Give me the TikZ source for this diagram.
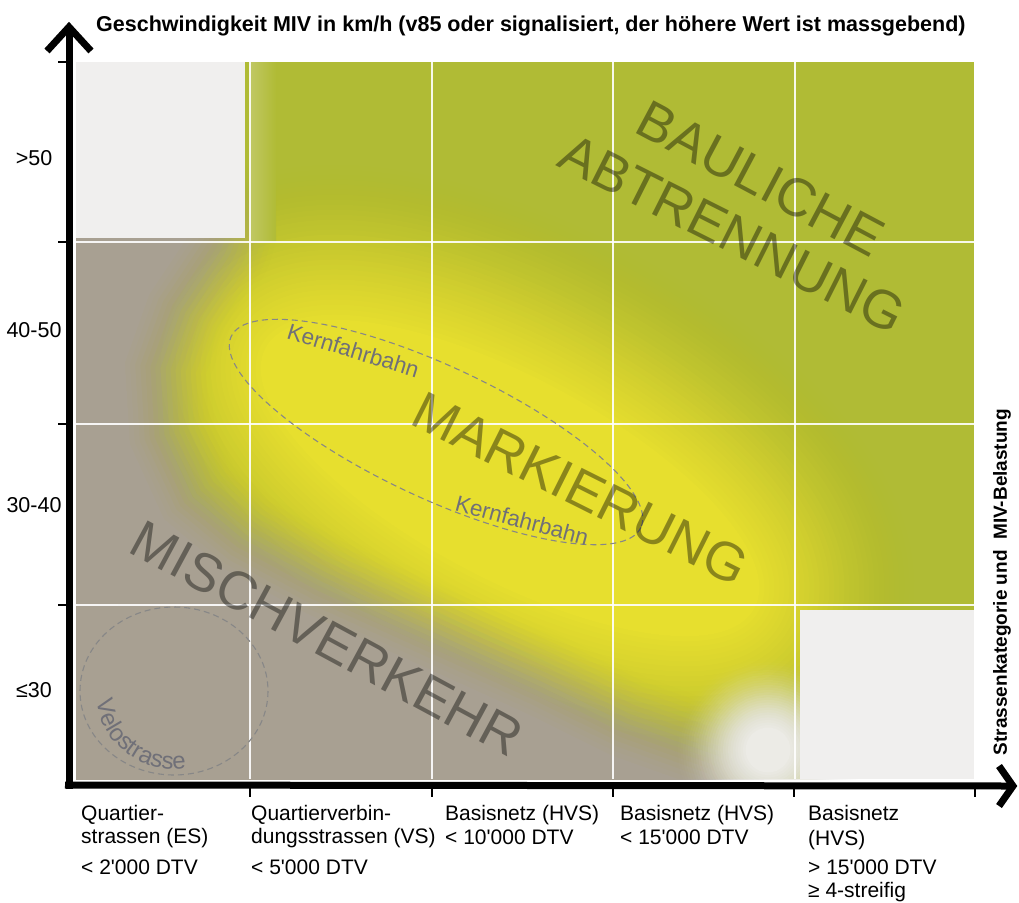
\documentclass[tikz,border=0pt]{standalone}
\usepackage{fontspec}
\setmainfont{Liberation Sans}
\usetikzlibrary{decorations.text}
\definecolor{cgreen}{RGB}{176,187,53}
\definecolor{cyellow}{RGB}{231,223,46}
\definecolor{cgrey}{RGB}{168,160,146}
\definecolor{clight}{RGB}{240,239,238}
\definecolor{cwhite}{RGB}{236,235,230}
\definecolor{clabel}{RGB}{112,112,120}
\definecolor{cdash}{RGB}{135,135,135}
\newcommand{\vfnt}{\fontsize{24}{24}\selectfont\color{clabel}}
% smooth fade helper: opacity of layer #1 out of #2 layers -> \fadeop
\newcommand{\calcfade}[2]{%
  \pgfmathsetmacro\fadeu{(#2-#1+1)/#2}%
  \pgfmathsetmacro\fadev{(#2-#1)/#2}%
  \pgfmathsetmacro\fadeop{1-(1-(3*\fadeu*\fadeu-2*\fadeu*\fadeu*\fadeu))/(1-(3*\fadev*\fadev-2*\fadev*\fadev*\fadev))}%
}
\begin{document}
\begin{tikzpicture}[x=1pt,y=-1pt,
  big/.style={font=\fontsize{54}{54}\selectfont, text=black, text opacity=0.4, inner sep=0pt, anchor=base},
  kern/.style={font=\fontsize{22.5}{22.5}\selectfont, text=clabel, inner sep=0pt, anchor=base},
  ylab/.style={font=\fontsize{21.5}{21.5}\selectfont, inner sep=0pt, anchor=base},
  xlab/.style={font=\fontsize{21}{21}\selectfont, inner sep=0pt, anchor=base west},
  axisline/.style={line width=7pt, black},
  tick/.style={line width=2pt, black},
  gridline/.style={white, line width=1.5pt, opacity=0.9},
  dashline/.style={cdash, line width=1.1pt, dash pattern=on 6pt off 4pt}]
\useasboundingbox (0,0) rectangle (1019,902);
\fill[white] (0,0) rectangle (1019,902);

\begin{scope}
\clip (76,62) rectangle (974,779);
\fill[cgreen] (76,62) rectangle (974,779);
% yellow blob
\foreach \k [evaluate=\k as \lw using 10*\k] in {1,...,32}{
  \calcfade{\k}{32}
  \draw[cyellow, opacity=\fadeop, line width=\lw pt, rotate around={-28:(510,478)}] (510,478) ellipse [x radius=272, y radius=96];
}
\fill[cyellow, rotate around={-28:(510,478)}] (510,478) ellipse [x radius=272, y radius=96];
% grey region
\foreach \k [evaluate=\k as \lw using 10*\k] in {1,...,18}{
  \calcfade{\k}{18}
  \draw[cgrey, opacity=\fadeop, line width=\lw pt, line join=round]
    (40,230) -- (185,232) -- (145,292) -- (120,362) -- (125,445) -- (160,522) -- (220,572) -- (305,618) -- (415,668) -- (525,718) -- (610,760) -- (700,792) -- (700,820) -- (40,820) -- cycle;
}
\fill[cgrey] (40,230) -- (185,232) -- (145,292) -- (120,362) -- (125,445) -- (160,522) -- (220,572) -- (305,618) -- (415,668) -- (525,718) -- (610,760) -- (700,792) -- (700,820) -- (40,820) -- cycle;
% whitish blob
\foreach \k [evaluate=\k as \lw using 5*\k] in {1,...,30}{
  \calcfade{\k}{30}
  \draw[cwhite, opacity=\fadeop, line width=\lw pt] (768,750) circle [radius=20];
}
\fill[cwhite] (768,750) circle [radius=20];
% light fade right of top-left box
\shade[left color=clight!25!cgreen, right color=cgreen] (250,62) rectangle (276,242);
% light boxes
\fill[clight] (76,62) rectangle (245,238);
\fill[clight] (800,610) rectangle (974,779);
\end{scope}

% grid
\foreach \gx in {250,432,613,795}{
  \draw[gridline] (\gx,62) -- (\gx,779);
}
\foreach \gy in {242,424,605}{
  \draw[gridline] (76,\gy) -- (974,\gy);
}

% dashed outlines
\draw[dashline, rotate around={-25:(436,432)}] (436,432) ellipse [x radius=226, y radius=66];
\draw[dashline] (174,691) ellipse [x radius=94, y radius=84];

% big labels
\node[big, rotate=-28] (baul) at (752,195) {BAULICHE};
\node[big, rotate=-26.7] (abtr) at (724,250) {ABTRENNUNG};
\node[big, rotate=-26.6] (mark) at (572,505) {MARKIERUNG};
\node[big, rotate=-28.4] (misch) at (318,655) {MISCHVERKEHR};

% small labels
\node[kern, rotate=-17] (kern1) at (351,358) {Kernfahrbahn};
\node[kern, rotate=-15] (kern2) at (520,528) {Kernfahrbahn};
\path[decorate, decoration={text along path, text align=center, text={|\vfnt|Velostrasse}}]
  (174,691) ++(192:78) arc[start angle=192, end angle=62, radius=78];

% axes
\coordinate (yStart) at (69,789);
\coordinate (yTip) at (69,27);
\coordinate (yArmL) at (47,51);
\coordinate (yArmR) at (91,51);
\coordinate (xStart) at (65,785);
\coordinate (xTip) at (1013,786);
\coordinate (xArmU) at (999,766);
\coordinate (xArmD) at (999,806);
\draw[axisline] (yStart) -- (yTip);
\draw[axisline] (xStart) -- (xTip);
\draw[axisline, line join=miter] (yArmL) -- (yTip) -- (yArmR);
\draw[axisline, line join=miter] (xArmU) -- (xTip) -- (xArmD);
\foreach \ty in {62,242,424,605}{
  \draw[tick] (58,\ty) -- (69,\ty);
}
\foreach \tx in {250,432,613,794,975}{
  \draw[tick] (\tx,785) -- (\tx,797);
}

% title and axis labels
\node[font=\bfseries\fontsize{21.5}{21.5}\selectfont, inner sep=0pt, anchor=base west] (title) at (96,31)
  {Geschwindigkeit MIV in km/h (v85 oder signalisiert, der höhere Wert ist massgebend)};
\node[font=\bfseries\fontsize{19}{19}\selectfont, inner sep=0pt, rotate=90] (rlab) at (1002,582)
  {Strassenkategorie und\ \ MIV-Belastung};

\node[ylab] (y1) at (34,165) {>50};
\node[ylab] (y2) at (34,337) {40-50};
\node[ylab] (y3) at (34,512) {30-40};
\node[ylab] (y4) at (34,697) {≤30};

\node[xlab] (c1a) at (81,820) {Quartier-};
\node[xlab] (c1b) at (81,843) {strassen (ES)};
\node[xlab] (c1c) at (81,874) {< 2\textquotesingle 000 DTV};
\node[xlab] (c2a) at (251,820) {Quartierverbin-};
\node[xlab] (c2b) at (251,843) {dungsstrassen (VS)};
\node[xlab] (c2c) at (251,874) {< 5\textquotesingle 000 DTV};
\node[xlab] (c3a) at (445,820) {Basisnetz (HVS)};
\node[xlab] (c3b) at (445,844) {< 10\textquotesingle 000 DTV};
\node[xlab] (c4a) at (620,820) {Basisnetz (HVS)};
\node[xlab] (c4b) at (620,844) {< 15\textquotesingle 000 DTV};
\node[xlab] (c5a) at (808,820) {Basisnetz};
\node[xlab] (c5b) at (808,845) {(HVS)};
\node[xlab] (c5c) at (808,874) {> 15\textquotesingle 000 DTV};
\node[xlab] (c5d) at (808,897) {≥ 4-streifig};
\end{tikzpicture}
\end{document}
